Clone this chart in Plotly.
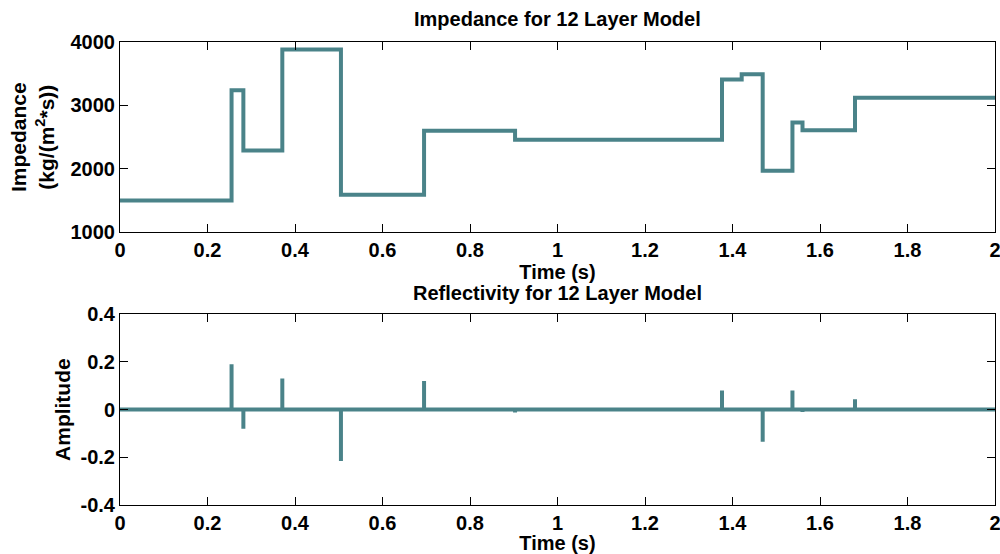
import plotly.graph_objects as go

# Impedance model (step function): layer top times (s) and impedance values
layer_times = [0.0, 0.255, 0.282, 0.371, 0.505, 0.695, 0.903, 1.376, 1.421, 1.469, 1.537, 1.560, 1.680, 2.0]
impedance = [1500, 3240, 2290, 3880, 1590, 2600, 2460, 3410, 3490, 1970, 2730, 2610, 3120, 3120]

# Reflectivity spikes at interfaces
refl_times = [0.255, 0.282, 0.371, 0.505, 0.695, 0.903, 1.376, 1.421, 1.469, 1.537, 1.560, 1.680]
refl_values = [0.19, -0.08, 0.13, -0.215, 0.12, -0.012, 0.08, 0.007, -0.135, 0.08, -0.01, 0.043]

x_ticks = [0, 0.2, 0.4, 0.6, 0.8, 1.0, 1.2, 1.4, 1.6, 1.8, 2.0]
x_ticktext = ["0", "0.2", "0.4", "0.6", "0.8", "1", "1.2", "1.4", "1.6", "1.8", "2"]
imp_ticks = [1000, 2000, 3000, 4000]
imp_ticktext = ["1000", "2000", "3000", "4000"]
amp_ticks = [-0.4, -0.2, 0, 0.2, 0.4]
amp_ticktext = ["-0.4", "-0.2", "0", "0.2", "0.4"]

color = "#4A8389"
fig = go.Figure()

fig.add_trace(go.Scatter(x=layer_times, y=impedance, mode="lines", line=dict(color=color, width=4, shape="hv"),
                         xaxis="x", yaxis="y", showlegend=False))

# baseline of reflectivity series
fig.add_trace(go.Scatter(x=[layer_times[0], layer_times[-1]], y=[0, 0], mode="lines",
                         line=dict(color=color, width=4), xaxis="x2", yaxis="y2", showlegend=False))
sx, sy = [], []
for t, r in zip(refl_times, refl_values):
    sx += [t, t, None]
    sy += [0, r, None]
fig.add_trace(go.Scatter(x=sx, y=sy, mode="lines", line=dict(color=color, width=4),
                         xaxis="x2", yaxis="y2", showlegend=False))

axis_common = dict(showline=True, linecolor="black", linewidth=1, mirror="ticks", ticks="inside",
                   ticklen=8, tickcolor="black", tickwidth=1, showgrid=False, zeroline=False,
                   automargin=False, ticklabeloverflow="allow")

fig.update_layout(
    width=1000, height=554,
    margin=dict(l=120, r=5, t=42, b=49),
    paper_bgcolor="white", plot_bgcolor="white",
    font=dict(family="Liberation Sans, Arial", size=20, color="black", weight="bold"),
    xaxis=dict(domain=[0, 1], range=[0, 2], tickvals=x_ticks, ticktext=x_ticktext, anchor="y",
               title=dict(text="Time (s)", font=dict(size=20), standoff=1), **axis_common),
    yaxis=dict(domain=[0.589, 1], range=[1000, 4000], tickvals=imp_ticks, ticktext=imp_ticktext, anchor="x",
               title=dict(text="Impedance<br>(kg/(m<sup>2</sup>*s))", font=dict(size=21), standoff=10), **axis_common),
    xaxis2=dict(domain=[0, 1], range=[0, 2], tickvals=x_ticks, ticktext=x_ticktext, anchor="y2",
                title=dict(text="Time (s)", font=dict(size=20), standoff=1), **axis_common),
    yaxis2=dict(domain=[0, 0.412], range=[-0.4, 0.4], tickvals=amp_ticks, ticktext=amp_ticktext, anchor="x2",
                title=dict(text="Amplitude", font=dict(size=21), standoff=4), **axis_common),
    annotations=[
        dict(text="Impedance for 12 Layer Model", x=0.5, y=1, xref="paper", yref="paper",
             yshift=23, showarrow=False, yanchor="middle", font=dict(size=20)),
        dict(text="Reflectivity for 12 Layer Model", x=0.5, y=0.412, xref="paper", yref="paper",
             yshift=21, showarrow=False, yanchor="middle", font=dict(size=20)),
    ],
)

fig.write_html("out.html")
